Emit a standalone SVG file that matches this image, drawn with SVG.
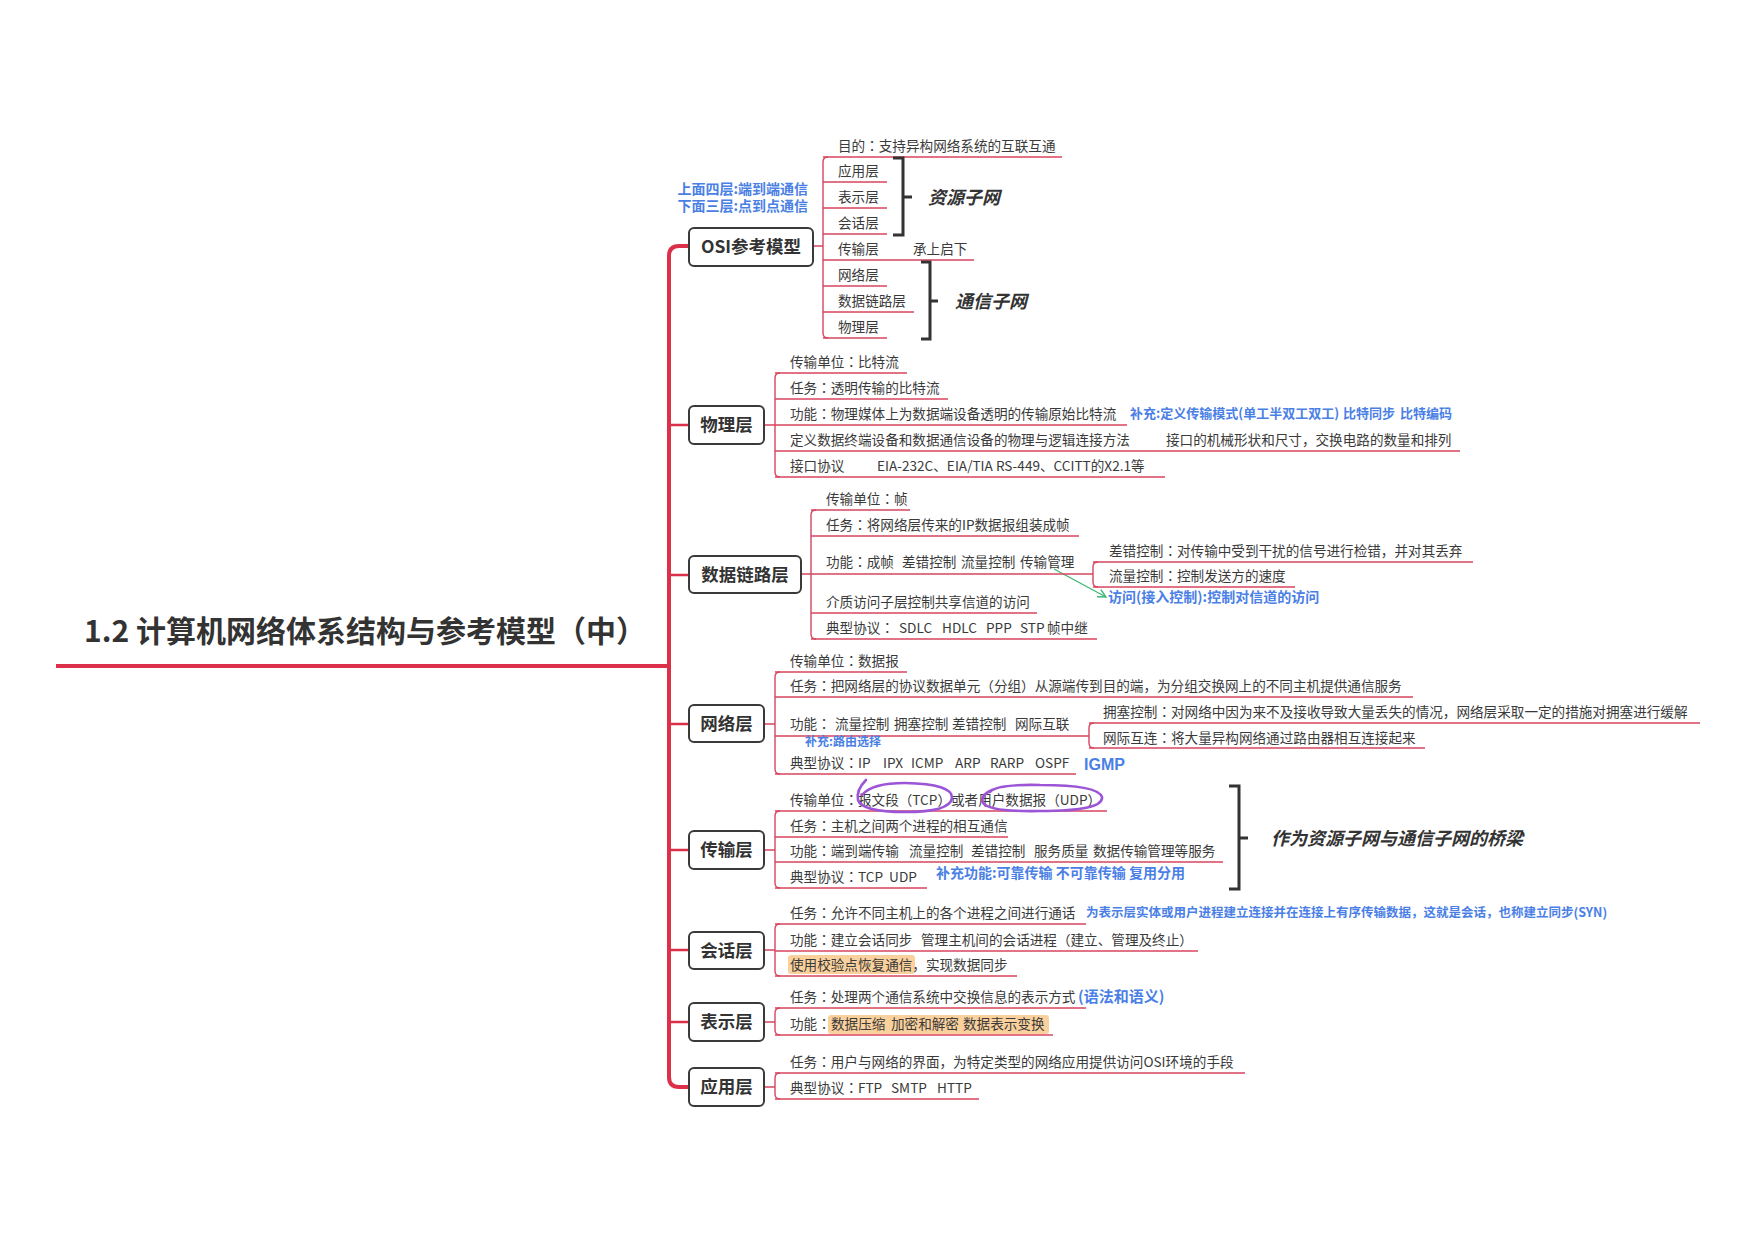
<svg xmlns="http://www.w3.org/2000/svg" width="1755" height="1240" viewBox="0 0 1755 1240" xml:space="preserve">
<defs>
<style>
text{font-family:"Noto Sans CJK SC","Noto Sans",sans-serif;white-space:pre}
.t{font-size:13.6px;fill:#3a3a3a}
.b{font-size:13px;font-weight:700;fill:#4a80e6}
.cp{font-family:"Noto Sans CJK TC","Noto Sans CJK SC",sans-serif}
.n rect{fill:#fff;stroke:#3a3a3a;stroke-width:2}
.n text{font-size:17.5px;font-weight:700;fill:#333;text-anchor:middle}
.u{stroke:#d8455f;stroke-width:1.4;fill:none}
.c{stroke:#d8455f;stroke-width:1.4;fill:none}
.tr{stroke:#dc2f4a;stroke-width:4;fill:none}
.br{stroke:#333;stroke-width:3;fill:none}
.it{font-size:18px;font-weight:700;font-style:italic;fill:#333}
.hl{fill:#f9c98b;opacity:0.85}
.pe{stroke:#9b55d6;stroke-width:2.6;fill:none;stroke-linecap:round}
</style>
<marker id="ga" viewBox="0 0 10 10" refX="9" refY="5" markerWidth="10" markerHeight="10" markerUnits="userSpaceOnUse" orient="auto">
<path d="M1 1 L9 5 L1 9" fill="none" stroke="#3cb878" stroke-width="1.4"/>
</marker>
</defs>
<rect width="1755" height="1240" fill="#fff"/>

<g id="connectors">
<path class="tr" d="M56 666 H669"/>
<path class="tr" d="M689 246 H679 Q669 246 669 256 V1077 Q669 1087 679 1087 H689"/>
<path class="tr" style="stroke-width:2.5" d="M669 425 H688 M669 575 H688 M669 724 H688 M669 850 H688 M669 950 H688 M669 1022 H688"/>
<path class="c" d="M813 246 H823 M828 157 Q823 157 823 162 V333 Q823 338 828 338"/>
<path class="c" d="M764 425 H775 M780 373 Q775 373 775 378 V472 Q775 477 780 477"/>
<path class="c" d="M801 574 H811 M816 510 Q811 510 811 515 V634 Q811 639 816 639"/>
<path class="c" d="M1098 562 Q1093 562 1093 567 V582 Q1093 587 1098 587"/>
<path class="c" d="M764 724 H775 M780 672 Q775 672 775 677 V769 Q775 774 780 774"/>
<path class="c" d="M1094 723 Q1089 723 1089 728 V743 Q1089 748 1094 748"/>
<path class="c" d="M764 850 H775 M780 811 Q775 811 775 816 V883 Q775 888 780 888"/>
<path class="c" d="M764 950 H775 M780 924 Q775 924 775 929 V971 Q775 976 780 976"/>
<path class="c" d="M764 1022 H775 M780 1008 Q775 1008 775 1013 V1030 Q775 1035 780 1035"/>
<path class="c" d="M764 1087 H775 M780 1073 Q775 1073 775 1078 V1094 Q775 1099 780 1099"/>
<path d="M1054 569 L1106 597" stroke="#3cb878" stroke-width="1.3" fill="none" marker-end="url(#ga)"/>
</g>

<g id="title"><text x="84" y="642" style="font-size:30px;font-weight:700;fill:#333">1.2 计算机网络体系结构与参考模型<tspan class="cp">（</tspan>中<tspan class="cp">）</tspan></text></g>

<g id="note-osi">
<text class="b" style="font-size:14px" x="808" y="194" text-anchor="end">上面四层:端到端通信</text>
<text class="b" style="font-size:14px" x="808" y="211" text-anchor="end">下面三层:点到点通信</text>
</g>

<g id="node-osi" class="n"><rect x="689" y="228" width="124" height="38" rx="5"/><text x="751" y="253">OSI参考模型</text></g>
<g id="osi-1"><text class="t" x="838" y="151">目的<tspan class="cp">：</tspan>支持异构网络系统的互联互通</text><path class="u" d="M823 157 H1062"/></g>
<g id="osi-2"><text class="t" x="838" y="176">应用层</text><path class="u" d="M823 182 H887"/></g>
<g id="osi-3"><text class="t" x="838" y="202">表示层</text><path class="u" d="M823 208 H887"/></g>
<g id="osi-4"><text class="t" x="838" y="228">会话层</text><path class="u" d="M823 234 H887"/></g>
<g id="osi-5"><text class="t" x="838" y="254">传输层</text><text class="t" x="913" y="254">承上启下</text><path class="u" d="M823 260 H974"/></g>
<g id="osi-6"><text class="t" x="838" y="280">网络层</text><path class="u" d="M823 286 H887"/></g>
<g id="osi-7"><text class="t" x="838" y="306">数据链路层</text><path class="u" d="M823 312 H914"/></g>
<g id="osi-8"><text class="t" x="838" y="332">物理层</text><path class="u" d="M823 338 H887"/></g>
<g id="bracket-res"><path class="br" d="M893 158 H903 V235 H893 M903 197 H912"/><text class="it" x="928" y="204">资源子网</text></g>
<g id="bracket-com"><path class="br" d="M921 262 H930 V339 H921 M930 301 H938"/><text class="it" x="955" y="308">通信子网</text></g>

<g id="node-phy" class="n"><rect x="689" y="406" width="75" height="38" rx="5"/><text x="726.5" y="431">物理层</text></g>
<g id="phy-1"><text class="t" x="790" y="367">传输单位<tspan class="cp">：</tspan>比特流</text><path class="u" d="M775 373 H907"/></g>
<g id="phy-2"><text class="t" x="790" y="393">任务<tspan class="cp">：</tspan>透明传输的比特流</text><path class="u" d="M775 399 H948"/></g>
<g id="phy-3"><text class="t" x="790" y="419">功能<tspan class="cp">：</tspan>物理媒体上为数据端设备透明的传输原始比特流</text><path class="u" d="M775 425 H1127"/></g>
<g id="phy-3b"><text class="b" x="1130" y="418">补充:定义传输模式(单工半双工双工)</text><text class="b" x="1343" y="418">比特同步</text><text class="b" x="1400" y="418">比特编码</text></g>
<g id="phy-4"><text class="t" x="790" y="445">定义数据终端设备和数据通信设备的物理与逻辑连接方法</text><text class="t" x="1166" y="445">接口的机械形状和尺寸，交换电路的数量和排列</text><path class="u" d="M775 451 H1460"/></g>
<g id="phy-5"><text class="t" x="790" y="471">接口协议</text><text class="t" x="877" y="471">EIA-232C、EIA/TIA RS-449、CCITT的X2.1等</text><path class="u" d="M775 477 H1165"/></g>

<g id="node-dll" class="n"><rect x="689" y="556" width="112" height="37" rx="5"/><text x="745" y="581">数据链路层</text></g>
<g id="dll-1"><text class="t" x="826" y="504">传输单位<tspan class="cp">：</tspan>帧</text><path class="u" d="M811 510 H910"/></g>
<g id="dll-2"><text class="t" x="826" y="530">任务<tspan class="cp">：</tspan>将网络层传来的IP数据报组装成帧</text><path class="u" d="M811 536 H1079"/></g>
<g id="dll-3"><text class="t" x="826" y="567">功能<tspan class="cp">：</tspan>成帧</text><text class="t" x="902" y="567">差错控制</text><text class="t" x="961" y="567">流量控制</text><text class="t" x="1020" y="567">传输管理</text><path class="u" d="M811 574 H1093"/></g>
<g id="dll-3a"><text class="t" x="1109" y="556">差错控制<tspan class="cp">：</tspan>对传输中受到干扰的信号进行检错，并对其丢弃</text><path class="u" d="M1093 562 H1473"/></g>
<g id="dll-3b"><text class="t" x="1109" y="581">流量控制<tspan class="cp">：</tspan>控制发送方的速度</text><path class="u" d="M1093 587 H1295"/></g>
<g id="dll-3c"><text class="b" style="font-size:14px" x="1108" y="602">访问(接入控制):控制对信道的访问</text></g>
<g id="dll-4"><text class="t" x="826" y="607">介质访问子层控制共享信道的访问</text><path class="u" d="M811 613 H1037"/></g>
<g id="dll-5"><text class="t" x="826" y="633">典型协议<tspan class="cp">：</tspan></text><text class="t" x="899" y="633">SDLC</text><text class="t" x="942" y="633">HDLC</text><text class="t" x="986" y="633">PPP</text><text class="t" x="1020" y="633">STP</text><text class="t" x="1047" y="633">帧中继</text><path class="u" d="M811 639 H1097"/></g>

<g id="node-net" class="n"><rect x="689" y="705" width="75" height="37" rx="5"/><text x="726.5" y="730">网络层</text></g>
<g id="net-1"><text class="t" x="790" y="666">传输单位<tspan class="cp">：</tspan>数据报</text><path class="u" d="M775 672 H907"/></g>
<g id="net-2"><text class="t" x="790" y="691">任务<tspan class="cp">：</tspan>把网络层的协议数据单元<tspan class="cp">（</tspan>分组<tspan class="cp">）</tspan>从源端传到目的端，为分组交换网上的不同主机提供通信服务</text><path class="u" d="M775 697 H1413"/></g>
<g id="net-3"><text class="t" x="790" y="729">功能<tspan class="cp">：</tspan></text><text class="t" x="835" y="729">流量控制</text><text class="t" x="894" y="729">拥塞控制</text><text class="t" x="952" y="729">差错控制</text><text class="t" x="1015" y="729">网际互联</text><path class="u" d="M775 736 H1089"/></g>
<g id="net-3n"><text class="b" style="font-size:12px" x="805" y="746">补充:路由选择</text></g>
<g id="net-3a"><text class="t" x="1103" y="717">拥塞控制<tspan class="cp">：</tspan>对网络中因为来不及接收导致大量丢失的情况，网络层采取一定的措施对拥塞进行缓解</text><path class="u" d="M1089 723 H1700"/></g>
<g id="net-3b"><text class="t" x="1103" y="743">网际互连<tspan class="cp">：</tspan>将大量异构网络通过路由器相互连接起来</text><path class="u" d="M1089 748 H1425"/></g>
<g id="net-4"><text class="t" x="790" y="768">典型协议<tspan class="cp">：</tspan>IP</text><text class="t" x="883" y="768">IPX</text><text class="t" x="911" y="768">ICMP</text><text class="t" x="955" y="768">ARP</text><text class="t" x="990" y="768">RARP</text><text class="t" x="1035" y="768">OSPF</text><path class="u" d="M775 774 H1076"/></g>
<g id="net-4n"><text class="b" style="font-size:16px;font-family:'Liberation Sans',Arial,sans-serif" x="1084" y="770">IGMP</text></g>

<g id="node-tra" class="n"><rect x="689" y="831" width="75" height="38" rx="5"/><text x="726.5" y="856">传输层</text></g>
<g id="tra-1"><text class="t" x="790" y="805">传输单位<tspan class="cp">：</tspan>报文段<tspan class="cp">（</tspan>TCP<tspan class="cp">）</tspan>或者用户数据报<tspan class="cp">（</tspan>UDP<tspan class="cp">）</tspan></text><path class="u" d="M775 811 H1107"/>
<path class="pe" d="M866 780 Q856 790 858 800 Q862 812 905 812 Q950 812 952 798 Q953 784 905 783 Q872 783 862 795"/>
<path class="pe" d="M990 792 Q996 784 1040 785 Q1098 785 1102 797 Q1104 811 1040 811 Q990 812 983 803 Q980 795 992 790"/>
</g>
<g id="tra-2"><text class="t" x="790" y="831">任务<tspan class="cp">：</tspan>主机之间两个进程的相互通信</text><path class="u" d="M775 837 H1008"/></g>
<g id="tra-3"><text class="t" x="790" y="856">功能<tspan class="cp">：</tspan>端到端传输</text><text class="t" x="909" y="856">流量控制</text><text class="t" x="971" y="856">差错控制</text><text class="t" x="1034" y="856">服务质量</text><text class="t" x="1093" y="856">数据传输管理等服务</text><path class="u" d="M775 862 H1223"/></g>
<g id="tra-4"><text class="t" x="790" y="882">典型协议<tspan class="cp">：</tspan>TCP  UDP</text><path class="u" d="M775 888 H927"/></g>
<g id="tra-4n"><text class="b" style="font-size:14px" x="936" y="878">补充功能:可靠传输 不可靠传输 复用分用</text></g>
<g id="bracket-bridge"><path class="br" d="M1229 786 H1239 V889 H1229 M1239 838 H1248"/><text class="it" x="1271" y="845">作为资源子网与通信子网的桥梁</text></g>

<g id="node-ses" class="n"><rect x="689" y="932" width="75" height="37" rx="5"/><text x="726.5" y="957">会话层</text></g>
<g id="ses-1"><text class="t" x="790" y="918">任务<tspan class="cp">：</tspan>允许不同主机上的各个进程之间进行通话</text><path class="u" d="M775 924 H1086"/></g>
<g id="ses-1n"><text class="b" style="font-size:12.5px" x="1086" y="917">为表示层实体或用户进程建立连接并在连接上有序传输数据，这就是会话，也称建立同步(SYN)</text></g>
<g id="ses-2"><text class="t" x="790" y="945">功能<tspan class="cp">：</tspan>建立会话同步</text><text class="t" x="921" y="945">管理主机间的会话进程<tspan class="cp">（</tspan>建立、管理及终止<tspan class="cp">）</tspan></text><path class="u" d="M775 951 H1198"/></g>
<g id="ses-3"><rect class="hl" x="788" y="955" width="127" height="19" rx="3"/><text class="t" x="790" y="970">使用校验点恢复通信，实现数据同步</text><path class="u" d="M775 976 H1017"/></g>

<g id="node-pre" class="n"><rect x="689" y="1003" width="75" height="38" rx="5"/><text x="726.5" y="1028">表示层</text></g>
<g id="pre-1"><text class="t" x="790" y="1002">任务<tspan class="cp">：</tspan>处理两个通信系统中交换信息的表示方式</text><text class="b" style="font-size:15px" x="1078" y="1002">(语法和语义)</text><path class="u" d="M775 1008 H1086"/></g>
<g id="pre-2"><rect class="hl" x="828" y="1015" width="221" height="19" rx="3"/><text class="t" x="790" y="1029">功能<tspan class="cp">：</tspan></text><text class="t" x="831" y="1029">数据压缩</text><text class="t" x="891" y="1029">加密和解密</text><text class="t" x="963" y="1029">数据表示变换</text><path class="u" d="M775 1035 H1053"/></g>

<g id="node-app" class="n"><rect x="689" y="1068" width="75" height="38" rx="5"/><text x="726.5" y="1093">应用层</text></g>
<g id="app-1"><text class="t" x="790" y="1067">任务<tspan class="cp">：</tspan>用户与网络的界面，为特定类型的网络应用提供访问OSI环境的手段</text><path class="u" d="M775 1073 H1245"/></g>
<g id="app-2"><text class="t" x="790" y="1093">典型协议<tspan class="cp">：</tspan>FTP</text><text class="t" x="891" y="1093">SMTP</text><text class="t" x="937" y="1093">HTTP</text><path class="u" d="M775 1099 H979"/></g>
</svg>
